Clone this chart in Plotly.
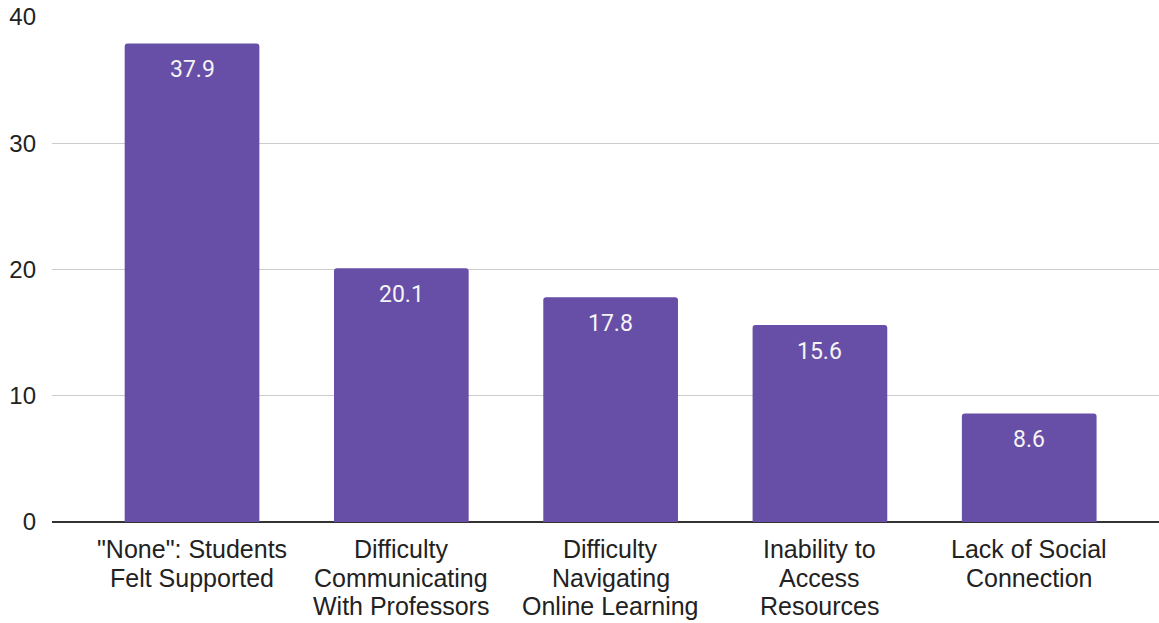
import plotly.graph_objects as go

categories = [
    '"None": Students<br>Felt Supported',
    'Difficulty<br>Communicating<br>With Professors',
    'Difficulty<br>Navigating<br>Online Learning',
    'Inability to<br>Access<br>Resources',
    'Lack of Social<br>Connection',
]
values = [37.9, 20.1, 17.8, 15.6, 8.6]
y_ticks = [0, 10, 20, 30, 40]

bar_color = "#674ea7"
label_font = "Liberation Sans, Arial, sans-serif"

fig = go.Figure()
fig.add_trace(go.Bar(
    x=list(range(len(categories))),
    y=values,
    marker=dict(color=bar_color, line=dict(width=0), cornerradius=3),
    hoverinfo="skip",
))

# value labels inside bar tops
for i, v in enumerate(values):
    fig.add_annotation(
        x=i, y=v, text=f"{v:.1f}", showarrow=False,
        yanchor="middle", yshift=-26,
        font=dict(family="Roboto", size=23, color="#f4f4f4"),
    )

# category labels, one annotation per line for tighter line spacing
line_step = 28.5
first_line = 27
for i, cat in enumerate(categories):
    for j, line in enumerate(cat.split("<br>")):
        fig.add_annotation(
            x=i, xref="x", y=0, yref="paper", text=line, showarrow=False,
            yanchor="middle", xanchor="center",
            yshift=-(first_line + j * line_step),
            font=dict(family=label_font, size=25, color="#222222"),
        )

fig.update_layout(
    width=1159, height=623,
    margin=dict(l=52, r=0, t=17, b=101),
    plot_bgcolor="white", paper_bgcolor="white",
    bargap=0.3565,
    showlegend=False,
    font=dict(family=label_font, size=24, color="#222222"),
    xaxis=dict(
        range=[-0.669, 4.62],
        showgrid=False, zeroline=False, showline=False,
        showticklabels=False, ticks="", automargin=False,
    ),
    yaxis=dict(
        range=[0, 40],
        tickmode="array",
        tickvals=y_ticks,
        showgrid=True, gridcolor="#cccccc", gridwidth=1,
        zeroline=True, zerolinecolor="#333333", zerolinewidth=1.5,
        showline=False, ticks="", ticklabelstandoff=15, automargin=False,
        tickfont=dict(family=label_font, size=24, color="#222222"),
    ),
)

fig.write_html(
    "out.html",
    config={"displayModeBar": False, "staticPlot": True},
    post_script="document.body.style.margin='0';document.body.style.overflow='hidden';",
)
